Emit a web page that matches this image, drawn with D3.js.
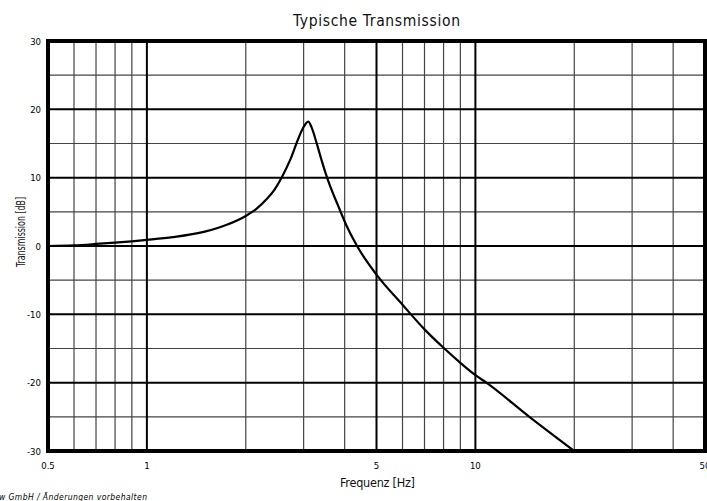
<!DOCTYPE html>
<html>
<head>
<meta charset="utf-8">
<script src="https://cdn.jsdelivr.net/npm/d3@7"></script>
<style>
  body { margin: 0; background: #fff; }
  svg { display: block; font-family: "DejaVu Sans Condensed", "DejaVu Sans", sans-serif; }
</style>
</head>
<body>
<div id="chart"></div>
<script>
let width = 707
let height = 501

// curve
let freq = [0.5, 0.6, 0.7, 0.8, 1, 1.2, 1.5, 1.75, 2, 2.15, 2.32, 2.45, 2.57, 2.73, 2.89, 2.99, 3.1, 3.17, 3.28, 3.4, 3.56, 3.82, 4.05, 4.35, 5, 6, 7, 8, 9, 10, 10.8, 14.6, 20]
let transmission = [0, 0.1, 0.3, 0.5, 0.9, 1.3, 2.1, 3.1, 4.4, 5.4, 6.9, 8.3, 10.0, 12.6, 15.7, 17.3, 18.2, 17.4, 15.2, 12.6, 9.6, 5.9, 3.0, 0.1, -4.2, -8.6, -12.2, -14.9, -17.1, -18.9, -20, -25, -30]

let xMajor = [1, 5, 10]
let xMinor = [0.6, 0.7, 0.8, 0.9, 2, 3, 4, 6, 7, 8, 9, 20, 30, 40]
let xLabels = [0.5, 1, 5, 10, 50]
let yMajor = [-20, -10, 0, 10, 20]
let yMinor = [-25, -15, -5, 5, 15, 25]
let yLabels = [-30, -20, -10, 0, 10, 20, 30]

let margin = { top: 41, right: 2, bottom: 50, left: 48 }
let w = width - margin.left - margin.right
let h = height - margin.top - margin.bottom

let xScale = d3.scaleLog().domain([0.5, 50]).range([0, w])
let yScale = d3.scaleLinear().domain([-30, 30]).range([h, 0])

let svg = d3.select('#chart').append('svg')
  .attr('width', width)
  .attr('height', height)

let inner = svg.append('g')
  .attr('transform', 'translate(' + margin.left + ',' + margin.top + ')')

// minor grid
inner.append('g').selectAll('line').data(xMinor).enter().append('line')
  .attr('x1', d => xScale(d)).attr('x2', d => xScale(d))
  .attr('y1', 0).attr('y2', h)
  .attr('stroke', '#444').attr('stroke-width', 1.2)
inner.append('g').selectAll('line').data(yMinor).enter().append('line')
  .attr('x1', 0).attr('x2', w)
  .attr('y1', d => yScale(d)).attr('y2', d => yScale(d))
  .attr('stroke', '#444').attr('stroke-width', 1.2)

// major grid
inner.append('g').selectAll('line').data(xMajor).enter().append('line')
  .attr('x1', d => xScale(d)).attr('x2', d => xScale(d))
  .attr('y1', 0).attr('y2', h)
  .attr('stroke', '#000').attr('stroke-width', 2)
inner.append('g').selectAll('line').data(yMajor).enter().append('line')
  .attr('x1', 0).attr('x2', w)
  .attr('y1', d => yScale(d)).attr('y2', d => yScale(d))
  .attr('stroke', '#000').attr('stroke-width', 2)

// curve
let line = d3.line()
  .x((d, i) => xScale(freq[i]))
  .y(d => yScale(d))
  .curve(d3.curveMonotoneX)

inner.append('path')
  .datum(transmission)
  .attr('d', line)
  .attr('fill', 'none')
  .attr('stroke', '#000')
  .attr('stroke-width', 2.2)

// frame
inner.append('rect')
  .attr('x', 0).attr('y', 0)
  .attr('width', w).attr('height', h)
  .attr('fill', 'none')
  .attr('stroke', '#000')
  .attr('stroke-width', 4)

// tick labels
inner.append('g').selectAll('text').data(yLabels).enter().append('text')
  .attr('x', -7)
  .attr('y', d => yScale(d) + 3.5)
  .attr('text-anchor', 'end')
  .attr('font-size', 9.5)
  .attr('fill', '#000')
  .text(d => d)

inner.append('g').selectAll('text').data(xLabels).enter().append('text')
  .attr('x', d => xScale(d))
  .attr('y', h + 18)
  .attr('text-anchor', 'middle')
  .attr('font-size', 9.5)
  .attr('fill', '#000')
  .text(d => d)

// titles
svg.append('text')
  .attr('x', 293)
  .attr('y', 26)
  .attr('font-size', 15.5)
  .attr('textLength', 167)
  .attr('lengthAdjust', 'spacing')
  .attr('fill', '#111')
  .text('Typische Transmission')

svg.append('text')
  .attr('x', 340)
  .attr('y', 487)
  .attr('font-size', 12.5)
  .attr('textLength', 75)
  .attr('lengthAdjust', 'spacing')
  .attr('fill', '#111')
  .text('Frequenz [Hz]')

svg.append('text')
  .attr('transform', 'translate(25,267) rotate(-90)')
  .attr('font-size', 12)
  .attr('textLength', 70)
  .attr('lengthAdjust', 'spacingAndGlyphs')
  .attr('fill', '#111')
  .text('Transmission [dB]')

svg.append('text')
  .attr('x', -1)
  .attr('y', 500)
  .attr('font-size', 8.5)
  .attr('textLength', 148)
  .attr('lengthAdjust', 'spacing')
  .attr('font-style', 'italic')
  .attr('fill', '#000')
  .text('w GmbH / Änderungen vorbehalten')
</script>
</body>
</html>
